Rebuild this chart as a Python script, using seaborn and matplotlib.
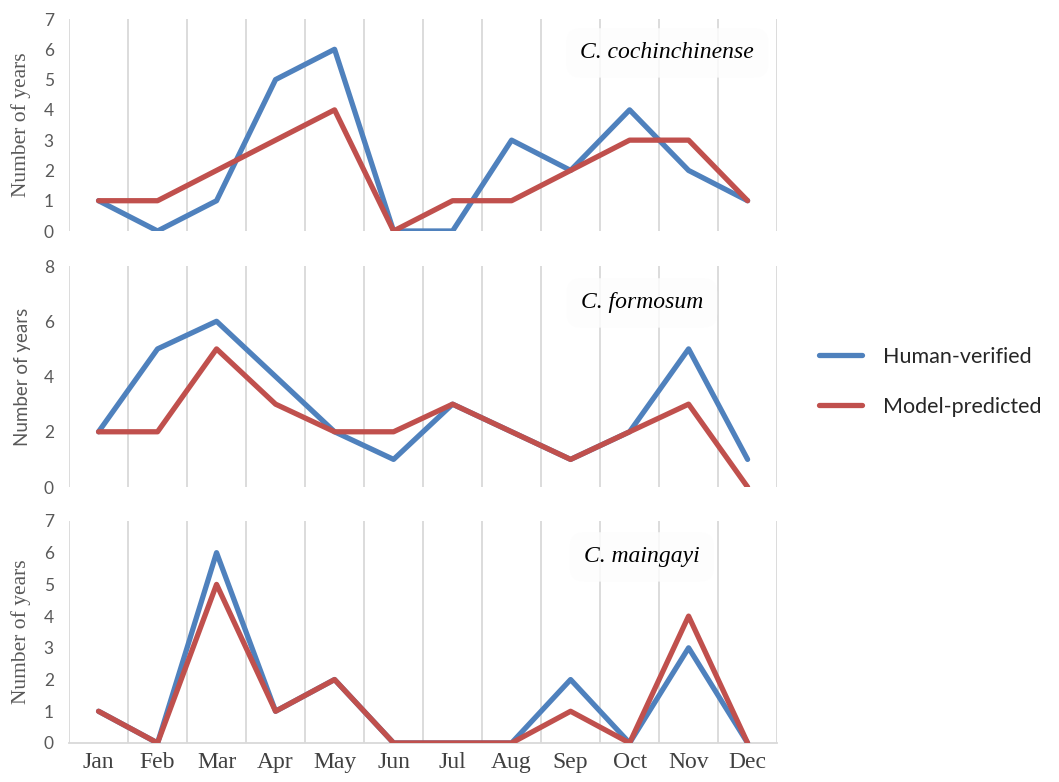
import matplotlib
matplotlib.use('Agg')
import matplotlib.pyplot as plt
import seaborn as sns

sns.set_theme(style="white")

# data
months = ['Jan', 'Feb', 'Mar', 'Apr', 'May', 'Jun', 'Jul', 'Aug', 'Sep', 'Oct', 'Nov', 'Dec']
species = ['C. cochinchinense', 'C. formosum', 'C. maingayi']
human_cochin = [1, 0, 1, 5, 6, 0, 0, 3, 2, 4, 2, 1]
model_cochin = [1, 1, 2, 3, 4, 0, 1, 1, 2, 3, 3, 1]
human_formo = [2, 5, 6, 4, 2, 1, 3, 2, 1, 2, 5, 1]
model_formo = [2, 2, 5, 3, 2, 2, 3, 2, 1, 2, 3, 0]
human_maing = [1, 0, 6, 1, 2, 0, 0, 0, 2, 0, 3, 0]
model_maing = [1, 0, 5, 1, 2, 0, 0, 0, 1, 0, 4, 0]
y_max = [7, 8, 7]
y_step = [1, 2, 1]

series = [(human_cochin, model_cochin), (human_formo, model_formo), (human_maing, model_maing)]
blue, red = '#4F81BD', '#C0504D'
grid_c = '#D9D9D9'
serif = ['Liberation Serif', 'DejaVu Serif']
sans = ['Lato', 'DejaVu Sans']

fig = plt.figure(figsize=(10.59, 7.82), dpi=100)
boxes = [(0.0652, 0.7046, 0.6686, 0.2711),
         (0.0652, 0.3772, 0.6686, 0.2826),
         (0.0652, 0.0499, 0.6686, 0.2839)]
label_pos = [(0.845, 0.84), (0.809, 0.833), (0.809, 0.838)]

for i, (h, m) in enumerate(series):
    ax = fig.add_axes(boxes[i])
    sns.lineplot(x=months, y=h, ax=ax, color=blue, lw=3.8, sort=False,
                 solid_capstyle='round', solid_joinstyle='round', label='Human-verified', zorder=3)
    sns.lineplot(x=months, y=m, ax=ax, color=red, lw=3.8, sort=False,
                 solid_capstyle='round', solid_joinstyle='round', label='Model-predicted', zorder=4)
    ax.set_xlim(-0.5, 11.5)
    ax.set_ylim(0, y_max[i])
    ax.set_yticks(range(0, y_max[i] + 1, y_step[i]))
    # vertical gridlines between month categories
    for b in [k - 0.5 for k in range(13)]:
        ax.axvline(b, color=grid_c, lw=1.3, zorder=1)
    for s in ax.spines.values():
        s.set_visible(False)
    if i == 2:
        ax.spines['bottom'].set_visible(True)
        ax.spines['bottom'].set_color(grid_c)
        ax.spines['bottom'].set_linewidth(1.3)
        ax.set_xticks(range(12))
        ax.set_xticklabels(months, fontfamily=serif, fontsize=17, color='#404040')
    else:
        ax.set_xticks([])
    ax.tick_params(axis='both', length=0)
    ax.tick_params(axis='y', pad=11, labelsize=12.5, labelcolor='#595959')
    ax.tick_params(axis='x', pad=6.5)
    for t in ax.get_yticklabels():
        t.set_fontfamily(sans)
    if i == 1:
        ax.set_ylabel('Number of years', fontfamily=sans, fontsize=13.5, color='#595959', labelpad=9)
    else:
        ax.set_ylabel('Number of years', fontfamily=serif, fontsize=15.5, color='#595959', labelpad=9)
    ax.set_xlabel('')
    ax.text(label_pos[i][0], label_pos[i][1], species[i], transform=ax.transAxes,
            ha='center', va='center', fontfamily=serif, fontstyle='italic', fontsize=17,
            color='black', zorder=5,
            bbox=dict(boxstyle='round,pad=0.6', fc='#FDFDFD', ec='none', alpha=0.85))
    handles, labels = ax.get_legend_handles_labels()
    ax.get_legend().remove()

leg = fig.legend(handles, labels, loc='center left', bbox_to_anchor=(0.763, 0.512),
                 frameon=False, borderpad=0, handlelength=2.0,
                 handletextpad=1.0, labelspacing=1.4, prop={'family': sans, 'size': 15.5})

fig.savefig('out.png', dpi=100)
